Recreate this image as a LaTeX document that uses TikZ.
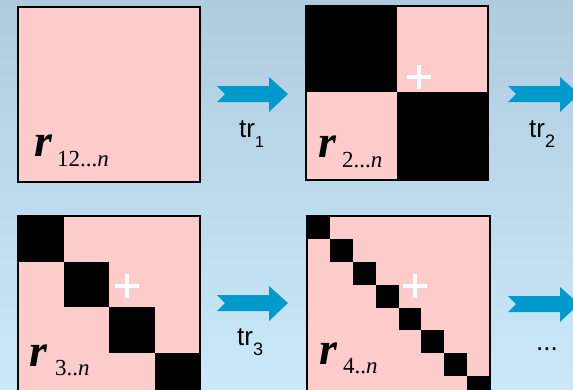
\documentclass[tikz,border=0pt]{standalone}
\usepackage{fontspec}
\setmainfont{Liberation Serif}
\newfontfamily\trfont{Liberation Sans}
\definecolor{rosa}{RGB}{255,204,204}
\definecolor{azulflecha}{RGB}{0,153,204}
\definecolor{fondoarriba}{RGB}{175,204,222}
\definecolor{fondoabajo}{RGB}{201,233,250}
\begin{document}
\begin{tikzpicture}[
        x=1pt, y=-1pt,
        caja/.style={fill=rosa, inner sep=0pt, outer sep=0pt, anchor=north west},
        borde/.style={draw=black, line width=1.8pt},
        bloque/.style={fill=black},
        mas/.style={white, line width=3.5pt},
        etiq/.style={anchor=base west, inner sep=0pt, font=\fontsize{46}{46}\selectfont\bfseries\itshape},
        subetiq/.style={anchor=base west, inner sep=0pt, font=\fontsize{23}{23}\selectfont},
        trlabel/.style={anchor=base west, inner sep=0pt, font=\trfont\fontsize{26}{26}\selectfont},
        flecha/.pic={\fill[azulflecha] (0,9) -- (52,9) -- (52,0) -- (71,17) -- (52,35) -- (52,25) -- (0,25) -- (8,17) -- cycle;}
    ]
    \clip (0,0) rectangle (573,389);
    \shade[top color=fondoarriba, bottom color=fondoabajo] (0,0) rectangle (573,389);

    % first row
    \node (m1) [caja, minimum width=182pt, minimum height=175pt] at (18,7) {};
    \draw [borde] (m1.north west) rectangle (m1.south east);
    \node (r1) [etiq] at (34,156) {r};
    \node (s1) [subetiq] at (57,166) {12...\textit{n}};

    \pic (f1) at (217,77) {flecha};
    \node (t1) [trlabel] at (239,137) {tr\raisebox{-10pt}{\fontsize{16}{16}\selectfont 1}};

    \node (m2) [caja, minimum width=182pt, minimum height=174pt] at (306,6) {};
    \fill [bloque] (m2.north west) rectangle (397,92);
    \fill [bloque] (397,92) rectangle (m2.south east);
    \draw [borde] (m2.north west) rectangle (m2.south east);
    \draw [mas] (407,77) -- (431,77) (419,65) -- (419,89);
    \node (r2) [etiq] at (318,157) {r};
    \node (s2) [subetiq] at (342,167) {2...\textit{n}};

    \pic (f2) at (508,77) {flecha};
    \node (t2) [trlabel] at (529,137) {tr\raisebox{-10pt}{\fontsize{18}{18}\selectfont 2}};

    % second row
    \node (m3) [caja, minimum width=182pt, minimum height=182pt] at (18,216) {};
    \foreach \i in {0,...,3}
        \fill [bloque] (18+\i*45.5, 216+\i*45.5) rectangle ++(45.5,45.5);
    \draw [borde] (m3.north west) rectangle (m3.south east);
    \draw [mas] (115,286) -- (139,286) (127,274) -- (127,298);
    \node (r3) [etiq] at (29,366) {r};
    \node (s3) [subetiq] at (55,375) {3..\textit{n}};

    \pic (f3) at (217,286) {flecha};
    \node (t3) [trlabel] at (237,345) {tr\raisebox{-10pt}{\fontsize{18}{18}\selectfont 3}};

    \node (m4) [caja, minimum width=183pt, minimum height=183pt] at (307,216) {};
    \foreach \i in {0,...,7}
        \fill [bloque] (307+\i*22.875, 216+\i*22.875) rectangle ++(22.875,22.875);
    \draw [borde] (m4.north west) rectangle (m4.south east);
    \draw [mas] (403,286) -- (427,286) (415,274) -- (415,298);
    \node (r4) [etiq] at (319,364) {r};
    \node (s4) [subetiq] at (343,373) {4..\textit{n}};

    \pic (f4) at (508,287) {flecha};
    \node (t4) [trlabel] at (536,350) {...};
\end{tikzpicture}
\end{document}
